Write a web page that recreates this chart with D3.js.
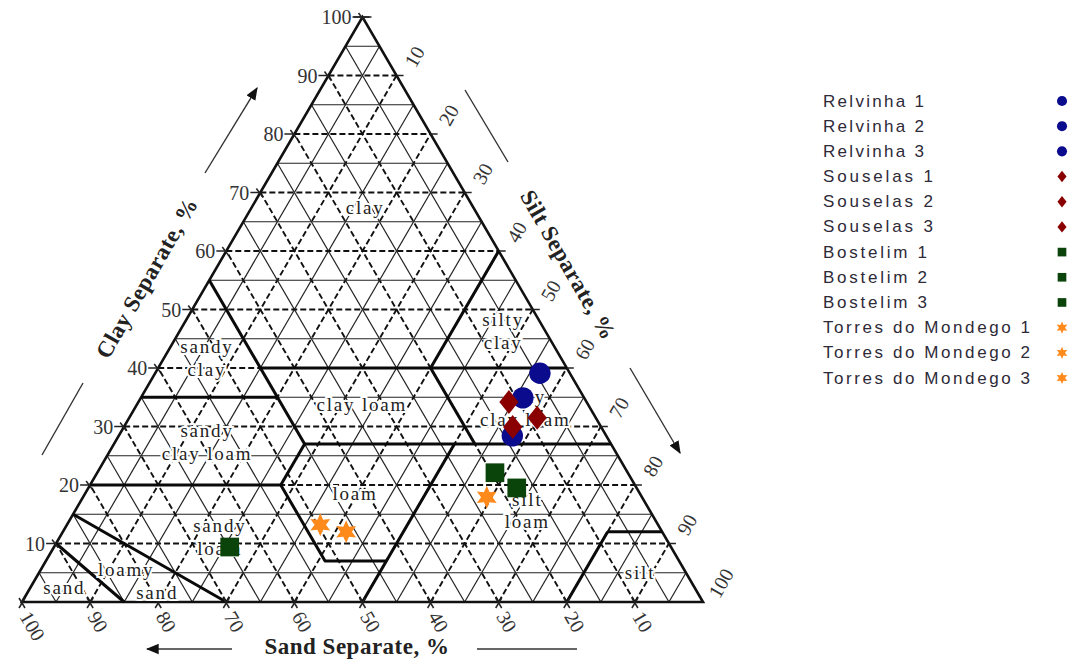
<!DOCTYPE html>
<html>
<head>
<meta charset="utf-8">
<script src="https://cdn.jsdelivr.net/npm/d3@7"></script>
<style>
  body { margin: 0; background: #fff; }
  svg { display: block; }
</style>
</head>
<body>
<svg id="chart" width="1068" height="659"></svg>
<script>
// ---- Sample data (percent sand / silt / clay) ----
const sampleNames = [
  "Relvinha 1", "Relvinha 2", "Relvinha 3",
  "Souselas 1", "Souselas 2", "Souselas 3",
  "Bostelim 1", "Bostelim 2", "Bostelim 3",
  "Torres do Mondego 1", "Torres do Mondego 2", "Torres do Mondego 3"
];
const sampleSite = [0, 0, 0, 1, 1, 1, 2, 2, 2, 3, 3, 3];
const sandPct = [4.4, 9.0, 13.8, 11.4, 8.6, 13.0, 19.5, 17.6, 64.8, 22.8, 49.6, 46.4];
const siltPct = [56.5, 56.1, 57.8, 54.4, 59.9, 57.1, 58.4, 62.9, 25.8, 59.3, 37.2, 41.6];
const clayPct = [39.1, 34.9, 28.4, 34.2, 31.5, 29.9, 22.1, 19.5, 9.4, 17.9, 13.2, 12.0];

// ---- Axis ticks ----
const axisTicks = [10, 20, 30, 40, 50, 60, 70, 80, 90, 100];
const gridSteps = [5, 10, 15, 20, 25, 30, 35, 40, 45, 50, 55, 60, 65, 70, 75, 80, 85, 90, 95];

// ---- USDA texture class boundaries, as [sand, silt, clay] vertices ----
const classBoundaries = [
  [[85, 15, 0], [90, 0, 10]],
  [[70, 30, 0], [85, 0, 15]],
  [[80, 0, 20], [52, 28, 20], [52, 41, 7], [43, 50, 7]],
  [[52, 28, 20], [45, 28, 27]],
  [[50, 50, 0], [23, 50, 27]],
  [[45, 28, 27], [0, 73, 27]],
  [[65, 0, 35], [45, 20, 35]],
  [[45, 0, 55], [45, 28, 27]],
  [[45, 15, 40], [0, 60, 40]],
  [[20, 40, 40], [0, 40, 60]],
  [[20, 40, 40], [20, 53, 27]],
  [[20, 80, 0], [8, 80, 12]],
  [[8, 80, 12], [0, 88, 12]]
];

// ---- Texture class names and where they sit (silt %, clay %) ----
const classNames = [
  ["clay"], ["silty", "clay"], ["sandy", "clay"], ["clay loam"],
  ["silty", "clay loam"], ["sandy", "clay loam"], ["loam"], ["silt", "loam"],
  ["sandy", "loam"], ["loamy", "sand"], ["sand"], ["silt"]
];
const classSilt = [16.7, 47.5, 6.3, 33.0, 57.3, 13.5, 39.6, 66.4, 23.5, 15.7, 5.0, 88.2];
const classClay = [67.4, 46.3, 41.7, 33.8, 33.2, 27.35, 18.6, 15.6, 11.1, 3.6, 2.4, 5.1];

const siteColors = ["#0b0b8e", "#8a0000", "#0b440b", "#ff8a1c"];

// ---- Scales: horizontal position from (silt + clay/2), vertical from clay ----
const x = d3.scaleLinear().domain([0, 100]).range([22, 703]);
const y = d3.scaleLinear().domain([0, 100]).range([602, 17]);
const P = (sand, silt, clay) => [x(silt + clay / 2), y(clay)];

const svg = d3.select("#chart");
const serif = "'Liberation Serif', 'Times New Roman', serif";

// ---- Grid ----
const grid = svg.append("g");
gridSteps.forEach(v => {
  const major = v % 10 === 0;
  const segs = [
    [P(100 - v, 0, v), P(0, 100 - v, v)],   // constant clay
    [P(v, 100 - v, 0), P(v, 0, 100 - v)],   // constant sand
    [P(100 - v, v, 0), P(0, v, 100 - v)]    // constant silt
  ];
  segs.forEach(s => {
    grid.append("line")
      .attr("x1", s[0][0]).attr("y1", s[0][1])
      .attr("x2", s[1][0]).attr("y2", s[1][1])
      .attr("stroke", major ? "#111" : "#222")
      .attr("stroke-width", major ? 1.9 : 1.2)
      .attr("stroke-dasharray", major ? "6,3" : null);
  });
});

// ---- Triangle outline ----
const corners = [P(100, 0, 0), P(0, 0, 100), P(0, 100, 0)];
svg.append("path")
  .attr("d", d3.line()(corners) + "Z")
  .attr("fill", "none").attr("stroke", "#111").attr("stroke-width", 2.6);

// ---- Class boundaries ----
svg.append("g").selectAll("path").data(classBoundaries).join("path")
  .attr("d", d => d3.line()(d.map(p => P(p[0], p[1], p[2]))))
  .attr("fill", "none").attr("stroke", "#0a0a0a").attr("stroke-width", 3)
  .attr("stroke-linejoin", "round");

// ---- Axis ticks and labels ----
const ticks = svg.append("g").attr("stroke", "#222").attr("stroke-width", 1.5);
const labels = svg.append("g").attr("font-family", serif).attr("font-size", 20).attr("fill", "#333");

axisTicks.forEach(v => {
  // clay (left edge) – horizontal extensions on both edges
  const L = P(100 - v, 0, v), R = P(0, 100 - v, v);
  ticks.append("line").attr("x1", L[0] - 10).attr("y1", L[1]).attr("x2", L[0]).attr("y2", L[1]);
  ticks.append("line").attr("x1", R[0]).attr("y1", R[1]).attr("x2", R[0] + 7).attr("y2", R[1]);
  ticks.append("line").attr("x1", L[0] - 4).attr("y1", L[1] - 4).attr("x2", L[0] + 2).attr("y2", L[1] + 4);
  labels.append("text").attr("x", L[0] - 11).attr("y", L[1])
    .attr("text-anchor", "end").attr("dominant-baseline", "central").text(v);

  // silt (right edge)
  const S = P(0, v, 100 - v);
  labels.append("text")
    .attr("transform", `translate(${S[0] + 18},${S[1] - 19}) rotate(-60)`)
    .attr("text-anchor", "middle").attr("dominant-baseline", "central").text(v);

  // sand (base)
  const B = P(v, 100 - v, 0);
  ticks.append("line").attr("x1", B[0] - 3).attr("y1", B[1] - 4).attr("x2", B[0] + 3).attr("y2", B[1] + 6);
  ticks.append("line").attr("x1", B[0] + 3).attr("y1", B[1] - 4).attr("x2", B[0] - 3).attr("y2", B[1] + 6);
  labels.append("text")
    .attr("transform", `translate(${B[0] + 3},${B[1] + 11}) rotate(60)`)
    .attr("text-anchor", "start").attr("dominant-baseline", "central").text(v);
});
// apex tick
const apex = P(0, 0, 100);
ticks.append("line").attr("x1", apex[0] - 9).attr("y1", apex[1]).attr("x2", apex[0] + 9).attr("y2", apex[1]);

// ---- Class names ----
const cls = svg.append("g").attr("font-family", serif).attr("font-size", 19)
  .attr("fill", "#222").attr("letter-spacing", 1.8).attr("text-anchor", "middle");
classNames.forEach((lines, i) => {
  const c = P(100 - classSilt[i] - classClay[i], classSilt[i], classClay[i]);
  const n = lines.length;
  lines.forEach((t, j) => {
    let dx = 0;
    if (t === "loamy") dx = -15;
    if (t === "sand" && n === 2) dx = 16;
    cls.append("text")
      .attr("x", c[0] + dx).attr("y", c[1] + (j - (n - 1) / 2) * 22.5)
      .attr("dominant-baseline", "central")
      .attr("stroke", "#fff").attr("stroke-width", 4).attr("paint-order", "stroke")
      .text(t);
  });
});

// ---- Axis titles and arrows ----
const titles = svg.append("g").attr("font-family", serif).attr("font-size", 23)
  .attr("font-weight", "bold").attr("fill", "#222").attr("text-anchor", "middle");
titles.append("text").attr("transform", "translate(147,278) rotate(-60)")
  .attr("dominant-baseline", "central").attr("letter-spacing", 0.5).text("Clay Separate, %");
titles.append("text").attr("transform", "translate(568,265) rotate(60)")
  .attr("dominant-baseline", "central").attr("letter-spacing", 0.5).text("Silt Separate, %");
titles.append("text").attr("x", 357).attr("y", 646)
  .attr("dominant-baseline", "central").attr("letter-spacing", 0.5).text("Sand Separate, %");

svg.append("defs").append("marker")
  .attr("id", "arrowHead").attr("viewBox", "0 0 10 10")
  .attr("refX", 9).attr("refY", 5)
  .attr("markerWidth", 13).attr("markerHeight", 13)
  .attr("markerUnits", "userSpaceOnUse").attr("orient", "auto")
  .append("path").attr("d", "M0,1 L10,5 L0,9 Z").attr("fill", "#111");

const guides = [
  [[205, 173], [257, 88], true],
  [[83, 383], [42, 455], false],
  [[465, 90], [508, 162], false],
  [[630, 368], [680, 453], true],
  [[232, 649], [147, 649], true],
  [[477, 649], [577, 649], false]
];
svg.append("g").selectAll("line").data(guides).join("line")
  .attr("x1", d => d[0][0]).attr("y1", d => d[0][1])
  .attr("x2", d => d[1][0]).attr("y2", d => d[1][1])
  .attr("stroke", "#333").attr("stroke-width", 1.4)
  .attr("marker-end", d => d[2] ? "url(#arrowHead)" : null);

// ---- Marker shapes ----
const starSix = {
  draw(ctx, size) {
    const r = Math.sqrt(size / 1.6), ri = r * 0.5;
    for (let k = 0; k < 12; k++) {
      const a = -Math.PI / 2 + k * Math.PI / 6;
      const rr = k % 2 ? ri : r;
      const px = rr * Math.cos(a), py = rr * Math.sin(a);
      if (k === 0) ctx.moveTo(px, py); else ctx.lineTo(px, py);
    }
    ctx.closePath();
  }
};
const diamondTall = {
  draw(ctx, size) {
    const h = Math.sqrt(size) * 0.68, w = h * 0.8;
    ctx.moveTo(0, -h); ctx.lineTo(w, 0); ctx.lineTo(0, h); ctx.lineTo(-w, 0); ctx.closePath();
  }
};
const siteSymbols = [d3.symbolCircle, diamondTall, d3.symbolSquare, starSix];
const plotSizes = [360, 310, 350, 210];
const legendSizes = [80, 70, 75, 60];

// ---- Sample points ----
const idx = d3.range(sampleNames.length);
svg.append("g").selectAll("path").data(idx).join("path")
  .attr("transform", i => {
    const p = P(sandPct[i], siltPct[i], clayPct[i]);
    return `translate(${p[0]},${p[1]})`;
  })
  .attr("d", i => d3.symbol(siteSymbols[sampleSite[i]], plotSizes[sampleSite[i]])())
  .attr("fill", i => siteColors[sampleSite[i]]);

// ---- Legend ----
const legendY = d3.scalePoint().domain(idx).range([101, 378]);
const legendWidths = [101, 101, 101, 110, 110, 110, 104, 104, 104, 207, 207, 207];
const legend = svg.append("g");
legend.selectAll("text").data(idx).join("text")
  .attr("x", 823).attr("y", i => legendY(i))
  .attr("dominant-baseline", "central")
  .attr("font-family", "'Liberation Sans', Arial, sans-serif")
  .attr("font-size", 17).attr("fill", "#2e2a38")
  .attr("textLength", i => legendWidths[i]).attr("lengthAdjust", "spacing")
  .text(i => sampleNames[i]);
legend.selectAll("path").data(idx).join("path")
  .attr("transform", i => `translate(1062,${legendY(i)})`)
  .attr("d", i => d3.symbol(siteSymbols[sampleSite[i]], legendSizes[sampleSite[i]])())
  .attr("fill", i => siteColors[sampleSite[i]]);
</script>
</body>
</html>
